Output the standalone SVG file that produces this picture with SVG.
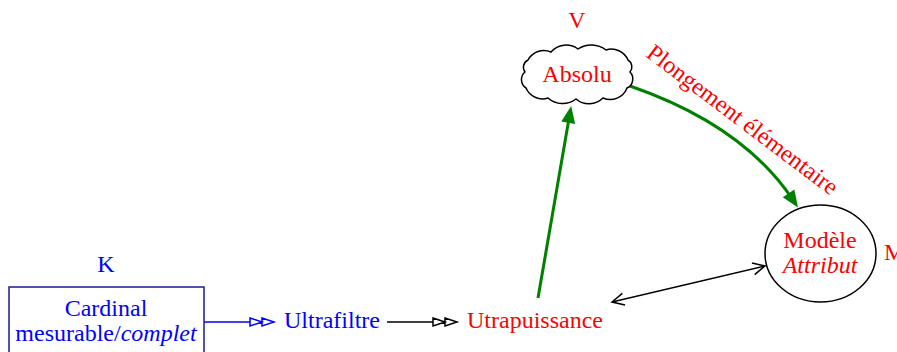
<svg xmlns="http://www.w3.org/2000/svg" width="897" height="352" viewBox="0 0 897 352">
<style>
text{font-family:"Liberation Serif","Times New Roman",serif;font-size:24px}
.r{fill:#ff0000}
.b{fill:#0000ff}
.c{text-anchor:middle}
.i{font-style:italic}
.shape{fill:#ffffff;stroke:#000000;stroke-width:1.5}
.green{fill:none;stroke:#008000;stroke-width:3}
</style>
<defs>
<marker id="dblBlue" markerUnits="userSpaceOnUse" markerWidth="26" markerHeight="12" refX="0" refY="6" orient="auto" overflow="visible">
<path d="M0,2 L12,6 L0,10 Z M12,2 L24,6 L12,10 Z" fill="#ffffff" stroke="#0000ff" stroke-width="1.5"/>
</marker>
<marker id="dblBlack" markerUnits="userSpaceOnUse" markerWidth="26" markerHeight="12" refX="0" refY="6" orient="auto" overflow="visible">
<path d="M0,2 L12,6 L0,10 Z M12,2 L24,6 L12,10 Z" fill="#ffffff" stroke="#000000" stroke-width="1.5"/>
</marker>
<marker id="greenHead" markerUnits="userSpaceOnUse" markerWidth="18" markerHeight="14" refX="8" refY="7" orient="auto" overflow="visible">
<path d="M0,0 L17,7 L0,14 Z" fill="#008000"/>
</marker>
<marker id="vHead" markerUnits="userSpaceOnUse" markerWidth="14" markerHeight="12" refX="12" refY="6" orient="auto-start-reverse" overflow="visible">
<path d="M0,0 L12,6 L0,12" fill="none" stroke="#000000" stroke-width="1.5"/>
</marker>
</defs>

<g id="connectors">
<line x1="204" y1="322" x2="250" y2="322" stroke="#0000ff" stroke-width="1.5" marker-end="url(#dblBlue)"/>
<line x1="387" y1="322" x2="433" y2="322" stroke="#000000" stroke-width="1.5" marker-end="url(#dblBlack)"/>
<line x1="538" y1="298" x2="569.6" y2="114.9" class="green" marker-end="url(#greenHead)"/>
<path d="M630,86 Q743,125 793,200" class="green" marker-end="url(#greenHead)"/>
<line x1="612" y1="302" x2="765" y2="266" stroke="#000000" stroke-width="1.5" marker-start="url(#vHead)" marker-end="url(#vHead)"/>
<text class="r" transform="translate(645,56) rotate(37)">Plongement élémentaire</text>
</g>

<g id="node-K">
<rect x="9" y="287" width="195" height="80" fill="#ffffff" stroke="#1a1a9a" stroke-width="1.5"/>
<text class="b c" x="106" y="272">K</text>
<text class="b c" x="106" y="316">Cardinal</text>
<text class="b c" x="106" y="341">mesurable/<tspan class="i">complet</tspan></text>
</g>

<g id="node-ultrafiltre">
<text class="b" x="284" y="328">Ultrafiltre</text>
</g>

<g id="node-utrapuissance">
<text class="r" x="467" y="328">Utrapuissance</text>
</g>

<g id="node-V">
<path class="shape" d="M528,60 A18,18 0 0 1 551,52 A20,20 0 0 1 578,49 A24,24 0 0 1 606,50 A18,18 0 0 1 628,60 A8,8 0 0 1 630,72 A10,10 0 0 1 627,88 A18,18 0 0 1 603,98 A20,20 0 0 1 576,99 A22,22 0 0 1 548,98 A18,18 0 0 1 526,88 A10,10 0 0 1 525,72 A8,8 0 0 1 528,60 Z"/>
<text class="r c" x="577" y="28">V</text>
<text class="r c" x="577" y="82">Absolu</text>
</g>

<g id="node-M">
<ellipse class="shape" cx="820.5" cy="253.5" rx="55.5" ry="48.5"/>
<text class="r c" x="820" y="248">Modèle</text>
<text class="r c i" x="820" y="273">Attribut</text>
<text class="r" x="884" y="260">M</text>
</g>
</svg>
